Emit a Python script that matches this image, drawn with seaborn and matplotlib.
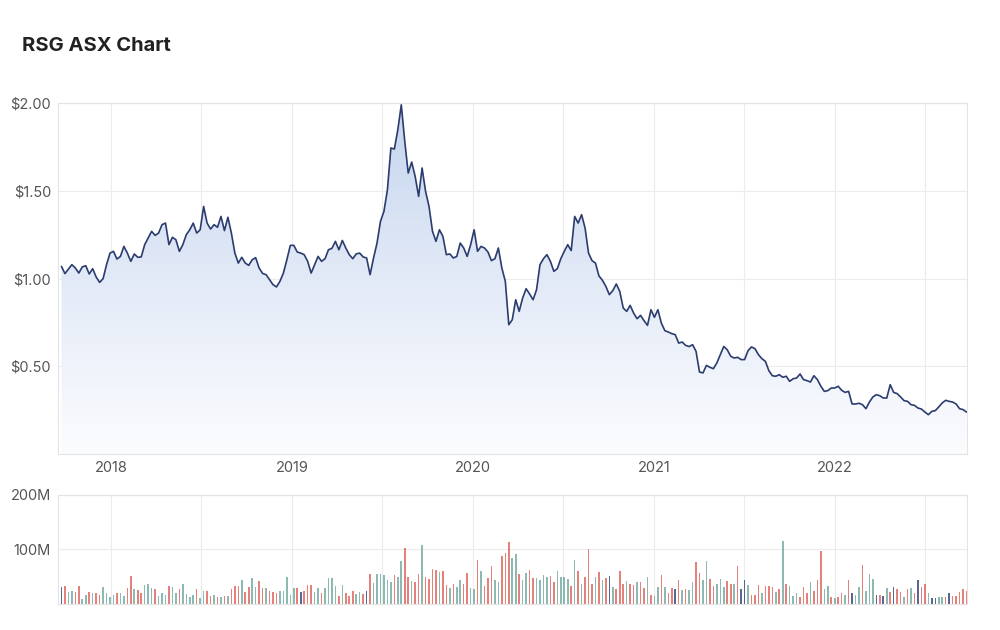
import numpy as np
import pandas as pd
import seaborn as sns
import matplotlib.pyplot as plt
import matplotlib.dates as mdates
from matplotlib.colors import LinearSegmentedColormap

# weekly closes, Sep 2017 - Sep 2022
start_date = '2017-09-22'
price = [
    1.069, 1.028, 1.054, 1.079, 1.060, 1.031, 1.066, 1.073, 1.026, 1.056,
    1.009, 0.978, 0.999, 1.079, 1.145, 1.155, 1.111, 1.126, 1.183, 1.145,
    1.098, 1.140, 1.121, 1.123, 1.193, 1.231, 1.269, 1.246, 1.259, 1.307,
    1.316, 1.193, 1.235, 1.221, 1.155, 1.193, 1.250, 1.278, 1.316, 1.259,
    1.278, 1.411, 1.316, 1.282, 1.307, 1.292, 1.354, 1.273, 1.349, 1.259,
    1.145, 1.088,
    1.121, 1.088, 1.075, 1.107, 1.119, 1.060, 1.029, 1.022, 0.993, 0.965,
    0.952, 0.984, 1.031, 1.107, 1.189, 1.189, 1.151, 1.145, 1.136, 1.098,
    1.031, 1.079, 1.126, 1.098, 1.113, 1.164, 1.172, 1.212, 1.164, 1.217,
    1.174, 1.136, 1.113, 1.140, 1.145, 1.123, 1.117, 1.022, 1.117, 1.202,
    1.326, 1.383, 1.506, 1.744, 1.738, 1.848, 1.990, 1.782, 1.601, 1.664,
    1.582, 1.468,
    1.630, 1.497, 1.411, 1.269, 1.212, 1.278, 1.240, 1.136, 1.140, 1.117,
    1.126, 1.202, 1.174, 1.126, 1.193, 1.278, 1.155, 1.183, 1.174, 1.151,
    1.102, 1.113, 1.174, 1.060, 0.984, 0.737, 0.765, 0.879, 0.813, 0.889,
    0.942, 0.912, 0.879, 0.936, 1.079, 1.113, 1.136, 1.098, 1.041, 1.056,
    1.113, 1.155, 1.193, 1.159, 1.354, 1.316, 1.364, 1.288, 1.145, 1.102,
    1.088, 1.015,
    0.990, 0.955, 0.908, 0.931, 0.969, 0.927, 0.832, 0.813, 0.847, 0.803,
    0.771, 0.790, 0.760, 0.733, 0.822, 0.779, 0.822, 0.746, 0.703, 0.695,
    0.686, 0.680, 0.632, 0.638, 0.619, 0.612, 0.623, 0.585, 0.467, 0.462,
    0.505, 0.494, 0.486, 0.519, 0.566, 0.613, 0.594, 0.557, 0.547, 0.551,
    0.538, 0.538, 0.589, 0.610, 0.600, 0.566, 0.543, 0.528, 0.475, 0.446,
    0.443, 0.452,
    0.437, 0.443, 0.414, 0.429, 0.433, 0.456, 0.424, 0.418, 0.410, 0.446,
    0.424, 0.386, 0.357, 0.361, 0.376, 0.376, 0.386, 0.363, 0.351, 0.357,
    0.285, 0.285, 0.289, 0.281, 0.258, 0.296, 0.325, 0.338, 0.332, 0.319,
    0.319, 0.395, 0.351, 0.344, 0.325, 0.304, 0.300, 0.281, 0.277, 0.262,
    0.256, 0.239, 0.224, 0.243, 0.247, 0.268, 0.291, 0.306, 0.300, 0.296,
    0.285, 0.258, 0.253, 0.239,
]

# weekly volume in millions
volume = [
    30.3, 32.7, 22.4, 24.2, 22.4, 32.7, 9.1, 16.4, 22.4, 20.6,
    20.6, 16.4, 30.3, 20.6, 12.1, 16.4, 19.4, 20.6, 14.5, 28.5,
    50.9, 26.7, 25.5, 20.6, 34.5, 36.4, 28.5, 26.7, 14.5, 19.4,
    16.4, 32.7, 30.3, 20.6, 26.7, 36.4, 18.2, 12.1, 16.4, 26.7,
    10.3, 24.2, 24.2, 14.5, 16.4, 12.1, 12.1, 14.5, 14.5, 26.7,
    32.7, 32.7, 44.8, 22.4, 30.3, 48.5, 30.3, 42.4, 28.5, 28.5,
    24.2, 22.4, 20.6, 24.2, 24.2, 49.7, 16.4, 28.5, 28.5, 22.4,
    24.2, 34.5, 34.5, 22.4, 28.5, 20.6, 28.5, 48.5, 48.5, 32.7,
    14.5, 34.5, 20.6, 14.5, 24.2, 18.2, 22.4, 18.2, 24.2, 54.5,
    38.8, 55.8, 55.8, 52.7, 44.8, 40.6, 52.7, 49.7,
    78.8, 103.0, 49.7, 42.4, 40.6, 54.5, 109.1, 49.7, 46.7, 64.8,
    63.0, 58.8, 60.6, 34.5, 28.5, 36.4, 30.3, 44.8, 36.4, 57.0,
    28.5, 26.7, 81.2, 60.6, 32.7, 48.5, 69.1, 44.8, 40.6, 87.3,
    93.3, 113.3, 84.8, 92.1, 54.5, 43.6, 57.0, 63.0, 48.5, 48.5,
    44.8, 52.7, 49.7, 50.9, 40.6, 60.6, 49.7, 49.7, 46.7, 32.7,
    81.2, 60.6, 36.4, 49.7, 101.2, 36.4, 49.7, 58.8, 44.8, 48.5,
    50.9, 30.3, 26.7, 60.6, 36.4, 42.4, 36.4, 34.5, 40.6, 40.6,
    28.5, 49.7, 16.4, 14.5, 30.3, 52.7, 30.3, 19.4, 28.5, 26.7,
    43.6, 25.5, 26.7, 25.5, 40.6, 77.0,
    57.0, 44.8, 78.8, 46.7, 32.7, 36.4, 46.7, 30.3, 42.4, 36.4,
    36.4, 69.1, 26.7, 44.8, 34.5, 16.4, 16.4, 34.5, 20.6, 32.7,
    32.7, 30.3, 22.4, 26.7, 116.4, 36.4, 32.7, 14.5, 20.6, 12.1,
    30.3, 19.4, 40.6, 24.2, 43.6, 97.0, 26.7, 32.7, 12.1, 10.3,
    12.1, 19.4, 16.4, 43.6, 19.4, 16.4, 30.3, 70.9, 24.2, 54.5,
    46.7, 16.4, 16.4, 14.5, 28.5, 22.4, 30.3, 26.7, 22.4, 13.3,
    26.7, 28.5, 20.6, 44.8, 30.3, 36.4, 19.4, 10.3, 10.3, 12.1,
    12.1, 12.1, 19.4, 14.5, 14.5, 22.4, 26.7, 24.0,
]

# bar colour per week: u = up, d = down, n = neutral
bar_dir = list(
    "nduudduudu" "dduuuuduud" "dudduuuduu" "uduuduuuud" "uuddududud"
    "ddudduuddu" "ddduuuuudn" "ddduuduuuu" "duddduudnd" "uuuuuudu"
    "uddudduddd" "dudduduudd" "uududdduud" "dduuduuddu" "uuudduuuud"
    "ududddudud" "nuddduddud" "duduududdn" "duduud"
    "duudduuudd" "udnnudddud" "ddududuuud" "dduddduudu" "ddudnuuduu"
    "undnudnddu" "dudnddunnu" "udnddddd"
)

price_ticks = [0.5, 1.0, 1.5, 2.0]
price_labels = ['$0.50', '$1.00', '$1.50', '$2.00']
vol_ticks = [100, 200]
vol_labels = ['100M', '200M']

dates = pd.date_range(start_date, periods=len(price), freq='7D')
df = pd.DataFrame({'date': dates, 'price': price, 'volume': volume, 'dir': bar_dir})

sns.set_style('white')
plt.rcParams['font.family'] = ['Inter', 'DejaVu Sans']

grid_c = '#ececec'
text_c = '#555555'
line_c = '#2b3c6e'
bar_colors = {'u': '#6fa99f', 'd': '#df625a', 'n': '#2f417a'}

fig = plt.figure(figsize=(10, 6.3), dpi=100)
ax = fig.add_axes([0.058, 0.2794, 0.909, 0.557])
ax2 = fig.add_axes([0.058, 0.0413, 0.909, 0.173], sharex=ax)

x0 = dates[0] - pd.Timedelta(days=7)
x1 = dates[-1] + pd.Timedelta(days=1)

# price panel: gradient area under the line
poly = ax.fill_between(df['date'], df['price'], 0, color='none', lw=0)
cmap = LinearSegmentedColormap.from_list('area', ['#fbfcfe', '#e3eaf7', '#c4d5ee'])
grad = ax.imshow(np.linspace(1, 0, 256).reshape(-1, 1), cmap=cmap, aspect='auto',
                 extent=[mdates.date2num(x0), mdates.date2num(x1), 0, 2.0],
                 origin='upper', zorder=1)
grad.set_clip_path(poly.get_paths()[0], transform=ax.transData)
sns.lineplot(data=df, x='date', y='price', ax=ax, color=line_c, linewidth=1.2, zorder=3)

ax.set_xlim(x0, x1)
ax.set_ylim(0, 2.0)
ax.set_yticks(price_ticks)
ax.set_yticklabels(price_labels)
ax.set_xlabel('')
ax.set_ylabel('')

# volume panel
ax2.bar(df['date'], df['volume'], width=3.2, linewidth=0,
        color=[bar_colors[d] for d in df['dir']], alpha=0.8, zorder=2)
ax2.set_ylim(0, 200)
ax2.set_yticks(vol_ticks)
ax2.set_yticklabels(vol_labels)

for a in (ax, ax2):
    a.xaxis.set_major_locator(mdates.YearLocator())
    a.xaxis.set_major_formatter(mdates.DateFormatter('%Y'))
    a.xaxis.set_minor_locator(mdates.MonthLocator(bymonth=7))
    a.grid(True, which='both', axis='x', color=grid_c, lw=0.8, zorder=0)
    a.grid(True, which='major', axis='y', color=grid_c, lw=0.8, zorder=0)
    a.set_axisbelow(True)
    a.tick_params(which='both', length=0, labelsize=10.5, colors=text_c, pad=5)
    for s in a.spines.values():
        s.set_color('#e4e4e4')
        s.set_linewidth(0.8)

ax2.tick_params(axis='x', labelbottom=False)
ax2.set_xlabel('')
ax2.set_ylabel('')

fig.text(0.022, 1 - 46 / 630, 'RSG ASX Chart', fontsize=14.5, fontweight='bold',
         color='#222222', va='center', ha='left')

fig.savefig('out.png', dpi=100, facecolor='white')
